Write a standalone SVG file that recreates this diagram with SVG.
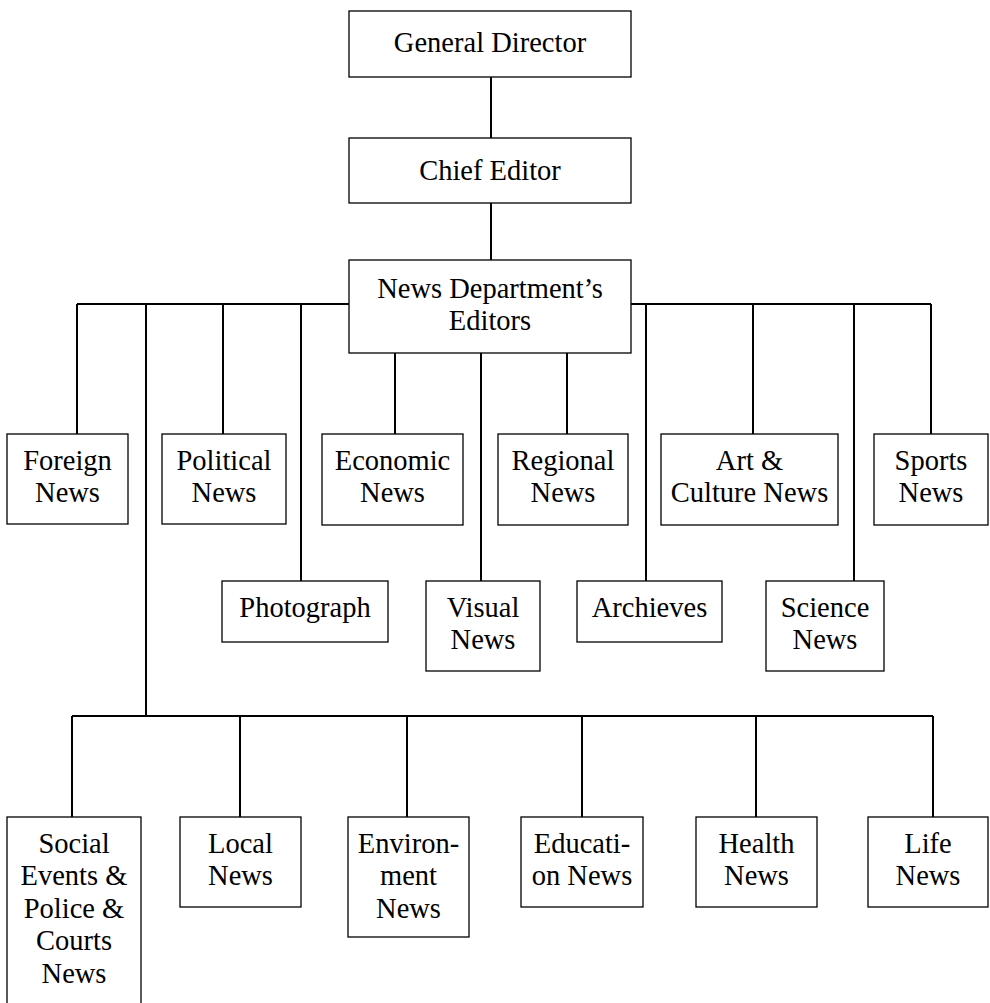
<svg xmlns="http://www.w3.org/2000/svg" width="990" height="1003" viewBox="0 0 990 1003">
<style>
.box{fill:#fff;stroke:#000;stroke-width:1.3}
.ln{stroke:#000;stroke-width:2;fill:none}
text{font-family:"Liberation Serif","Times New Roman",serif;font-size:28.5px;fill:#000;text-anchor:middle}
</style>
<rect width="990" height="1003" fill="#fff"/>
<g id="connectors">
<path class="ln" d="M491,77V138M491,203V260M77,304H931M146,304V716M72,716H933"/>
<path class="ln" d="M77,304V434M223,304V434M301,304V581M395,353V434M481,353V581M567,353V434M646,304V581M753,304V434M854,304V581M931,304V434"/>
<path class="ln" d="M72,716V817M240,716V817M407,716V817M582,716V817M756,716V817M933,716V817"/>
</g>
<g id="general-director"><rect class="box" x="349" y="11" width="282" height="66"/><text x="490" y="52">General Director</text></g>
<g id="chief-editor"><rect class="box" x="349" y="138" width="282" height="65"/><text x="490" y="180">Chief Editor</text></g>
<g id="news-dept"><rect class="box" x="349" y="260" width="282" height="93"/><text x="490" y="298">News Department’s</text><text x="490" y="330">Editors</text></g>
<g id="foreign"><rect class="box" x="7" y="434" width="121" height="90"/><text x="67.5" y="470">Foreign</text><text x="67.5" y="502">News</text></g>
<g id="political"><rect class="box" x="162" y="434" width="124" height="90"/><text x="224" y="470">Political</text><text x="224" y="502">News</text></g>
<g id="economic"><rect class="box" x="322" y="434" width="141" height="91"/><text x="392.5" y="470">Economic</text><text x="392.5" y="502">News</text></g>
<g id="regional"><rect class="box" x="498" y="434" width="130" height="91"/><text x="563" y="470">Regional</text><text x="563" y="502">News</text></g>
<g id="art"><rect class="box" x="661" y="434" width="177" height="91"/><text x="749.5" y="470">Art &amp;</text><text x="749.5" y="502">Culture News</text></g>
<g id="sports"><rect class="box" x="874" y="434" width="114" height="91"/><text x="931" y="470">Sports</text><text x="931" y="502">News</text></g>
<g id="photograph"><rect class="box" x="222" y="581" width="166" height="61"/><text x="305" y="617">Photograph</text></g>
<g id="visual"><rect class="box" x="426" y="581" width="114" height="90"/><text x="483" y="617">Visual</text><text x="483" y="649">News</text></g>
<g id="archieves"><rect class="box" x="577" y="581" width="145" height="61"/><text x="649.5" y="617">Archieves</text></g>
<g id="science"><rect class="box" x="766" y="581" width="118" height="90"/><text x="825" y="617">Science</text><text x="825" y="649">News</text></g>
<g id="social"><rect class="box" x="7" y="817" width="134" height="200"/><text x="74" y="852.5">Social</text><text x="74" y="885">Events &amp;</text><text x="74" y="917.5">Police &amp;</text><text x="74" y="950">Courts</text><text x="74" y="983">News</text></g>
<g id="local"><rect class="box" x="180" y="817" width="121" height="90"/><text x="240.5" y="852.5">Local</text><text x="240.5" y="885">News</text></g>
<g id="environment"><rect class="box" x="348" y="817" width="121" height="120"/><text x="408.5" y="852.5">Environ-</text><text x="408.5" y="885">ment</text><text x="408.5" y="917.5">News</text></g>
<g id="education"><rect class="box" x="521" y="817" width="122" height="90"/><text x="582" y="852.5">Educati-</text><text x="582" y="885">on News</text></g>
<g id="health"><rect class="box" x="696" y="817" width="121" height="90"/><text x="756.5" y="852.5">Health</text><text x="756.5" y="885">News</text></g>
<g id="life"><rect class="box" x="868" y="817" width="120" height="90"/><text x="928" y="852.5">Life</text><text x="928" y="885">News</text></g>
</svg>
